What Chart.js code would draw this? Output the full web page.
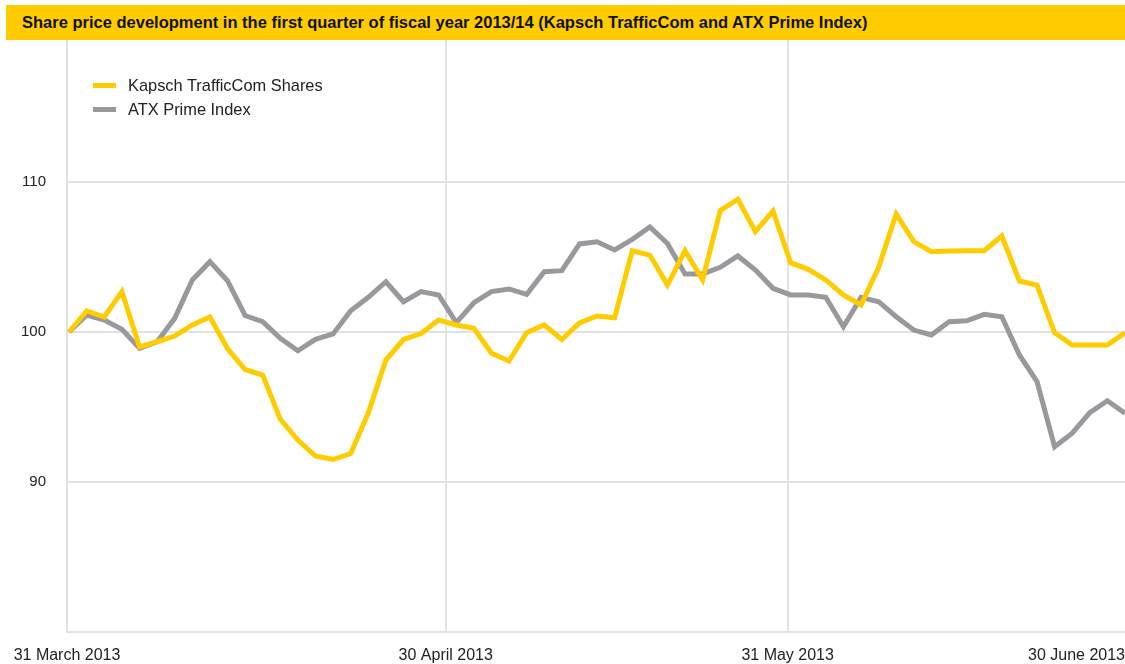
<!DOCTYPE html>
<html>
<head>
<meta charset="utf-8">
<title>Share price development Q1 2013/14</title>
<script src="https://cdn.jsdelivr.net/npm/chart.js@4/dist/chart.umd.min.js"></script>
<style>
  body { margin: 0; background: #fff; font-family: "Liberation Sans", Arial, sans-serif; }
  #wrap { position: relative; width: 1125px; height: 664px; overflow: hidden; }
  #my-chart { position: absolute; left: 0; top: 0; }
  #title {
    position: absolute; left: 6px; top: 5px; width: 1119px; height: 35px;
    background: #ffcc00; z-index: 2;
    font-weight: bold; font-size: 16.5px; color: #111;
    line-height: 34px; padding-left: 16px; box-sizing: border-box; white-space: nowrap;
  }
  #legend { position: absolute; left: 93px; top: 73px; z-index: 2; font-size: 16.4px; color: #222; }
  .item { height: 24px; line-height: 24px; position: relative; padding-left: 35px; }
  .swatch { position: absolute; left: 0; top: 10px; width: 23px; height: 5px; }
</style>
</head>
<body>
<div id="wrap">
  <canvas id="my-chart" width="1125" height="664"></canvas>
  <div id="title">Share price development in the first quarter of fiscal year 2013/14 (Kapsch TrafficCom and ATX Prime Index)</div>
  <div id="legend"></div>
</div>
<script>
'use strict';

// trading days, indexed from 31 March 2013 = 100
let kapschValues = [
  100.0, 101.4, 101.0, 102.7, 99.0, 99.35, 99.73, 100.47, 101.0, 98.9,
  97.5, 97.13, 94.18, 92.8, 91.73, 91.5, 91.9, 94.6, 98.13, 99.5,
  99.9, 100.8, 100.47, 100.25, 98.58, 98.07, 99.95, 100.47, 99.5, 100.6,
  101.07, 100.95, 105.42, 105.13, 103.13, 105.42, 103.47, 108.09, 108.85, 106.69,
  108.07, 104.62, 104.18, 103.47, 102.47, 101.8, 104.31, 107.87, 106.02, 105.35,
  105.4, 105.42, 105.42, 106.4, 103.4, 103.13, 99.95, 99.13, 99.13, 99.13,
  99.95
];

let atxValues = [
  100.0, 101.13, 100.8, 100.18, 98.91, 99.35, 100.91, 103.47, 104.69, 103.42,
  101.1, 100.69, 99.58, 98.75, 99.51, 99.87, 101.42, 102.31, 103.35, 102.02,
  102.69, 102.47, 100.62, 101.95, 102.69, 102.87, 102.51, 104.02, 104.09, 105.87,
  106.02, 105.47, 106.18, 107.0, 105.9, 103.87, 103.87, 104.31, 105.07, 104.13,
  102.91, 102.47, 102.47, 102.31, 100.35, 102.31, 102.02, 101.02, 100.13, 99.8,
  100.69, 100.75, 101.18, 101.02, 98.47, 96.69, 92.35, 93.25, 94.62, 95.42,
  94.58
];

let seriesNames = ['Kapsch TrafficCom Shares', 'ATX Prime Index'];
let seriesColors = ['#ffcc00', '#98999d'];

let dateLabels = ['31 March 2013', '30 April 2013', '31 May 2013', '30 June 2013'];
let datePositions = [-0.12, 21.4, 40.83, 60];

let yTickValues = [90, 100, 110];

let canvasElem = document.getElementById('my-chart');

function toPoints(values) {
  let pts = [];
  for (let i = 0; i < values.length; i++) {
    pts.push({ x: i, y: values[i] });
  }
  return pts;
}

function renderLegend() {
  let legendElem = document.getElementById('legend');
  for (let i = 0; i < seriesNames.length; i++) {
    let item = document.createElement('div');
    item.className = 'item';
    let sw = document.createElement('span');
    sw.className = 'swatch';
    sw.style.background = seriesColors[i];
    item.appendChild(sw);
    item.appendChild(document.createTextNode(seriesNames[i]));
    legendElem.appendChild(item);
  }
}

// month-end labels under the axis, last one kept inside the canvas
let dateLabelPlugin = {
  id: 'dateLabels',
  afterDraw(chart) {
    let ctx = chart.ctx;
    let xScale = chart.scales.x;
    ctx.save();
    ctx.font = '16px "Liberation Sans", Arial, sans-serif';
    ctx.fillStyle = '#222';
    ctx.textBaseline = 'middle';
    for (let i = 0; i < dateLabels.length; i++) {
      let px = xScale.getPixelForValue(datePositions[i]);
      ctx.textAlign = i === dateLabels.length - 1 ? 'right' : 'center';
      ctx.fillText(dateLabels[i], px, 656);
    }
    ctx.restore();
  }
};

function renderChart() {
  let gridColor = '#e2e2e2';

  let chartObj = {
    type: 'line',
    data: {
      datasets: [{
        label: seriesNames[0],
        data: toPoints(kapschValues),
        borderColor: seriesColors[0],
        borderWidth: 5,
        pointRadius: 0,
        tension: 0
      },
      {
        label: seriesNames[1],
        data: toPoints(atxValues),
        borderColor: seriesColors[1],
        borderWidth: 5,
        pointRadius: 0,
        tension: 0
      }]
    },
    options: {
      responsive: false,
      animation: false,
      layout: { padding: { top: 32, left: 0, right: 0, bottom: 0 } },
      scales: {
        x: {
          type: 'linear',
          min: datePositions[0],
          max: datePositions[datePositions.length - 1],
          afterBuildTicks: (s) => { s.ticks = datePositions.map(v => ({ value: v })); },
          afterFit: (s) => { s.height = 32; },
          ticks: { display: false },
          grid: {
            color: (c) => c.index === datePositions.length - 1 ? 'rgba(0,0,0,0)' : gridColor,
            lineWidth: 2,
            drawTicks: false
          },
          border: { display: true, color: gridColor, width: 2 }
        },
        y: {
          min: 80,
          max: 120,
          afterBuildTicks: (s) => { s.ticks = [80, 90, 100, 110, 120].map(v => ({ value: v })); },
          afterFit: (s) => { s.width = 67; },
          ticks: {
            padding: 21,
            color: '#222',
            font: { size: 15, family: '"Liberation Sans", Arial, sans-serif' },
            callback: (v) => yTickValues.includes(v) ? String(v) : ''
          },
          grid: { color: gridColor, lineWidth: 2, drawTicks: false },
          border: { display: true, color: gridColor, width: 2 }
        }
      },
      plugins: {
        legend: { display: false },
        tooltip: { enabled: false }
      }
    },
    plugins: [dateLabelPlugin]
  };

  new Chart(canvasElem, chartObj); //eslint-disable-line
}

renderLegend();
renderChart();
</script>
</body>
</html>
